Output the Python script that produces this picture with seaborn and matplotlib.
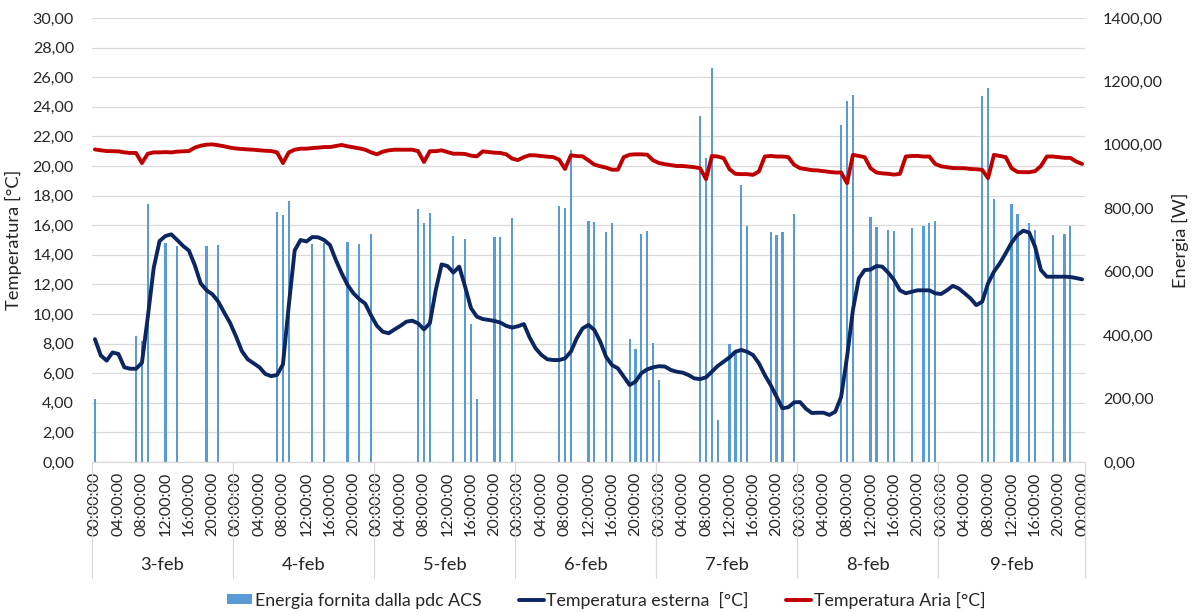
import matplotlib
matplotlib.use("Agg")
import numpy as np
import pandas as pd
import seaborn as sns
import matplotlib.pyplot as plt
import matplotlib.transforms as mtransforms
from matplotlib.ticker import MultipleLocator, FuncFormatter
from matplotlib.lines import Line2D
from matplotlib.patches import Patch

# ---------------- data ----------------
days = ["3-feb", "4-feb", "5-feb", "6-feb", "7-feb", "8-feb", "9-feb"]
hour_labels = ["00:00:00", "04:00:00", "08:00:00", "12:00:00", "16:00:00", "20:00:00"]

# Temperatura esterna [°C], hourly, 3-feb 00:00 .. 10-feb 00:00
t_esterna = [
    8.3, 7.2, 6.85, 7.4, 7.3, 6.4, 6.3, 6.3, 6.7, 9.8, 13.1, 14.93,
    15.27, 15.38, 15.0, 14.6, 14.28, 13.3, 12.07, 11.6, 11.33, 10.83, 10.1, 9.4,
    8.5, 7.5, 6.94, 6.67, 6.4, 5.95, 5.8, 5.88, 6.6, 10.6, 14.3, 15.0,
    14.9, 15.2, 15.18, 15.0, 14.66, 13.65, 12.75, 11.96, 11.4, 11.0, 10.7, 9.9,
    9.2, 8.8, 8.7, 8.96, 9.2, 9.48, 9.55, 9.37, 8.96, 9.37, 11.6, 13.35,
    13.24, 12.8, 13.2, 11.85, 10.4, 9.82, 9.66, 9.6, 9.53, 9.42, 9.2, 9.08,
    9.17, 9.32, 8.4, 7.68, 7.23, 6.94, 6.89, 6.89, 7.0, 7.45, 8.36, 9.03,
    9.26, 8.92, 8.13, 7.1, 6.55, 6.33, 5.77, 5.2, 5.43, 6.0, 6.26, 6.4,
    6.47, 6.45, 6.22, 6.1, 6.04, 5.88, 5.65, 5.6, 5.72, 6.1, 6.49, 6.78,
    7.07, 7.45, 7.57, 7.45, 7.23, 6.67, 5.88, 5.2, 4.41, 3.63, 3.7, 4.03,
    4.05, 3.6, 3.31, 3.33, 3.33, 3.18, 3.4, 4.41, 7.1, 10.27, 12.4, 12.97,
    13.0, 13.24, 13.2, 12.8, 12.3, 11.6, 11.4, 11.5, 11.6, 11.6, 11.6, 11.4,
    11.35, 11.6, 11.9, 11.73, 11.4, 11.06, 10.6, 10.83, 12.07, 12.86, 13.42, 14.1,
    14.82, 15.34, 15.63, 15.5, 14.55, 12.97, 12.52, 12.52, 12.52, 12.52, 12.5, 12.43,
    12.34,
]

# Temperatura Aria [°C]
t_aria = [
    21.12, 21.06, 21.01, 21.0, 20.99, 20.92, 20.88, 20.88, 20.2, 20.83, 20.92, 20.92,
    20.94, 20.92, 20.97, 20.99, 21.01, 21.24, 21.37, 21.44, 21.46, 21.4, 21.33, 21.24,
    21.18, 21.15, 21.12, 21.1, 21.06, 21.03, 21.01, 20.92, 20.2, 20.92, 21.1, 21.17,
    21.17, 21.21, 21.24, 21.28, 21.28, 21.35, 21.42, 21.33, 21.26, 21.19, 21.1, 20.92,
    20.79, 20.97, 21.06, 21.1, 21.1, 21.1, 21.1, 21.0, 20.27, 21.0, 21.0, 21.06,
    20.94, 20.83, 20.83, 20.81, 20.7, 20.65, 20.99, 20.94, 20.9, 20.88, 20.79, 20.5,
    20.4, 20.6, 20.73, 20.72, 20.67, 20.63, 20.6, 20.43, 19.8, 20.72, 20.67, 20.65,
    20.38, 20.09, 19.98, 19.89, 19.75, 19.75, 20.6, 20.76, 20.79, 20.79, 20.76, 20.38,
    20.2, 20.12, 20.06, 20.0, 20.0, 19.96, 19.92, 19.85, 19.11, 20.68, 20.64, 20.53,
    19.78, 19.47, 19.45, 19.45, 19.4, 19.63, 20.64, 20.68, 20.64, 20.64, 20.6, 20.08,
    19.85, 19.79, 19.72, 19.7, 19.65, 19.6, 19.56, 19.56, 18.84, 20.75, 20.68, 20.6,
    19.85, 19.56, 19.5, 19.47, 19.42, 19.47, 20.64, 20.68, 20.68, 20.64, 20.64, 20.14,
    19.98, 19.92, 19.86, 19.85, 19.85, 19.8, 19.78, 19.74, 19.18, 20.75, 20.68, 20.6,
    19.85, 19.6, 19.58, 19.58, 19.65, 20.0, 20.64, 20.64, 20.6, 20.55, 20.55, 20.3,
    20.14,
]

# Energia fornita dalla pdc ACS [W] : hour index -> value
energia_ore = [0, 7, 8, 9, 12, 14, 19, 21,
               31, 32, 33, 37, 39, 43, 45, 47,
               55, 56, 57, 61, 63, 64, 65, 68, 69, 71,
               79, 80, 81, 84, 85, 87, 88, 91, 92, 93, 94, 95,
               96, 103, 104, 105, 106, 108, 109, 110, 111, 115, 116, 117, 119,
               127, 128, 129, 132, 133, 135, 136, 139, 141, 142, 143,
               151, 152, 153, 156, 157, 159, 160, 163, 165, 166]
energia_val = [200, 397, 381, 813, 690, 680, 680, 684,
               788, 779, 823, 687, 692, 694, 687, 720,
               799, 755, 785, 713, 702, 435, 198, 708, 710, 769,
               806, 801, 984, 760, 757, 724, 755, 387, 355, 719, 729, 374,
               259, 1091, 957, 1241, 132, 372, 348, 873, 745, 726, 716, 724, 782,
               1063, 1138, 1157, 773, 742, 732, 728, 737, 745, 755, 761,
               1154, 1178, 828, 812, 781, 755, 732, 716, 719, 744]

n = len(t_esterna)
energia = np.zeros(n)
energia[energia_ore] = energia_val

df = pd.DataFrame({"idx": np.arange(n), "energia": energia,
                   "t_ext": t_esterna, "t_aria": t_aria})

# ---------------- style ----------------
BAR = "#5B9BD5"
NAVY = "#0B2660"
RED = "#C00000"
GRID = "#D9D9D9"
TXT = "#262626"
FS_TICK = 11.6
FS_TXT = 13.2
FS_LEG = 12.8

sns.set_theme(style="white")
plt.rcParams["font.family"] = ["Lato", "DejaVu Sans"]

fig = plt.figure(figsize=(11.96, 6.12), dpi=100)
axT = fig.add_axes([0.0769, 0.2451, 0.8303, 0.7255])
axE = axT.twinx()

sns.barplot(data=df, x="idx", y="energia", ax=axE, color=BAR, width=0.38,
            saturation=1, linewidth=0, errorbar=None)
sns.lineplot(data=df, x="idx", y="t_ext", ax=axT, color=NAVY, linewidth=2.8)
sns.lineplot(data=df, x="idx", y="t_aria", ax=axT, color=RED, linewidth=2.8)

axT.set_zorder(axE.get_zorder() + 1)
axT.patch.set_visible(False)

axT.set_xlim(-0.5, n - 0.5)
axT.set_ylim(0, 30)
axE.set_ylim(0, 1400)

# grid on the bar axis (behind bars), every 2 °C
axE.set_axisbelow(True)
axE.yaxis.set_minor_locator(MultipleLocator(1400 / 15))
axE.yaxis.remove_overlapping_locs = False
axE.grid(which="minor", axis="y", color=GRID, linewidth=0.9)
axE.grid(which="major", visible=False)
axT.grid(False)

# y ticks
comma = FuncFormatter(lambda v, p: f"{v:.2f}".replace(".", ","))
axT.set_yticks(np.arange(0, 31, 2))
axT.yaxis.set_major_formatter(comma)
axE.set_yticks(np.arange(0, 1401, 200))
axE.yaxis.set_major_formatter(comma)
axT.tick_params(axis="y", length=0, pad=13, labelsize=FS_TICK, labelcolor=TXT)
axE.tick_params(axis="y", which="both", length=0, pad=13, labelsize=FS_TICK,
                labelcolor=TXT)

# x ticks
tick_pos = np.arange(0, n, 4)
tick_lab = [hour_labels[(p % 24) // 4] for p in tick_pos]
axT.set_xticks(tick_pos)
axT.set_xticklabels(tick_lab, rotation=90, fontsize=FS_TICK, color=TXT)
axT.tick_params(axis="x", length=0, pad=7)
axT.set_xlabel("")

# axis labels
axT.set_ylabel("Temperatura [°C]", fontsize=FS_TXT, color=TXT)
axT.yaxis.set_label_coords(-0.0705, 0.5)
axE.set_ylabel("Energia [W]", fontsize=FS_TXT, color=TXT)
axE.yaxis.set_label_coords(1.0876, 0.5)

# spines
for s in ["top", "left", "right"]:
    axT.spines[s].set_visible(False)
for s in axE.spines:
    axE.spines[s].set_visible(False)
axT.spines["bottom"].set_color(GRID)
axT.spines["bottom"].set_linewidth(0.9)

# day groups
trans = mtransforms.blended_transform_factory(axT.transData, axT.transAxes)
bounds = [24 * d - 0.5 for d in range(len(days))] + [n - 0.5]
for b in bounds:
    axT.plot([b, b], [0, -0.261], transform=trans, clip_on=False,
             color=GRID, linewidth=0.9)
for d, name in enumerate(days):
    c = (bounds[d] + bounds[d + 1]) / 2
    axT.text(c, -0.232, name, transform=trans, ha="center", va="center",
             fontsize=FS_TXT, color=TXT)

# legend
handles = [Patch(facecolor=BAR, edgecolor="none"),
           Line2D([], [], color=NAVY, linewidth=2.8),
           Line2D([], [], color=RED, linewidth=2.8)]
labels = ["Energia fornita dalla pdc ACS", "Temperatura esterna  [°C]",
          "Temperatura Aria [°C]"]
fig.legend(handles, labels, loc="center", bbox_to_anchor=(0.507, 0.0196),
           ncol=3, frameon=False, fontsize=FS_LEG, handlelength=1.4,
           handleheight=0.5, handletextpad=0.15, columnspacing=2.1,
           labelcolor=TXT)

fig.savefig("out.png", dpi=100)
